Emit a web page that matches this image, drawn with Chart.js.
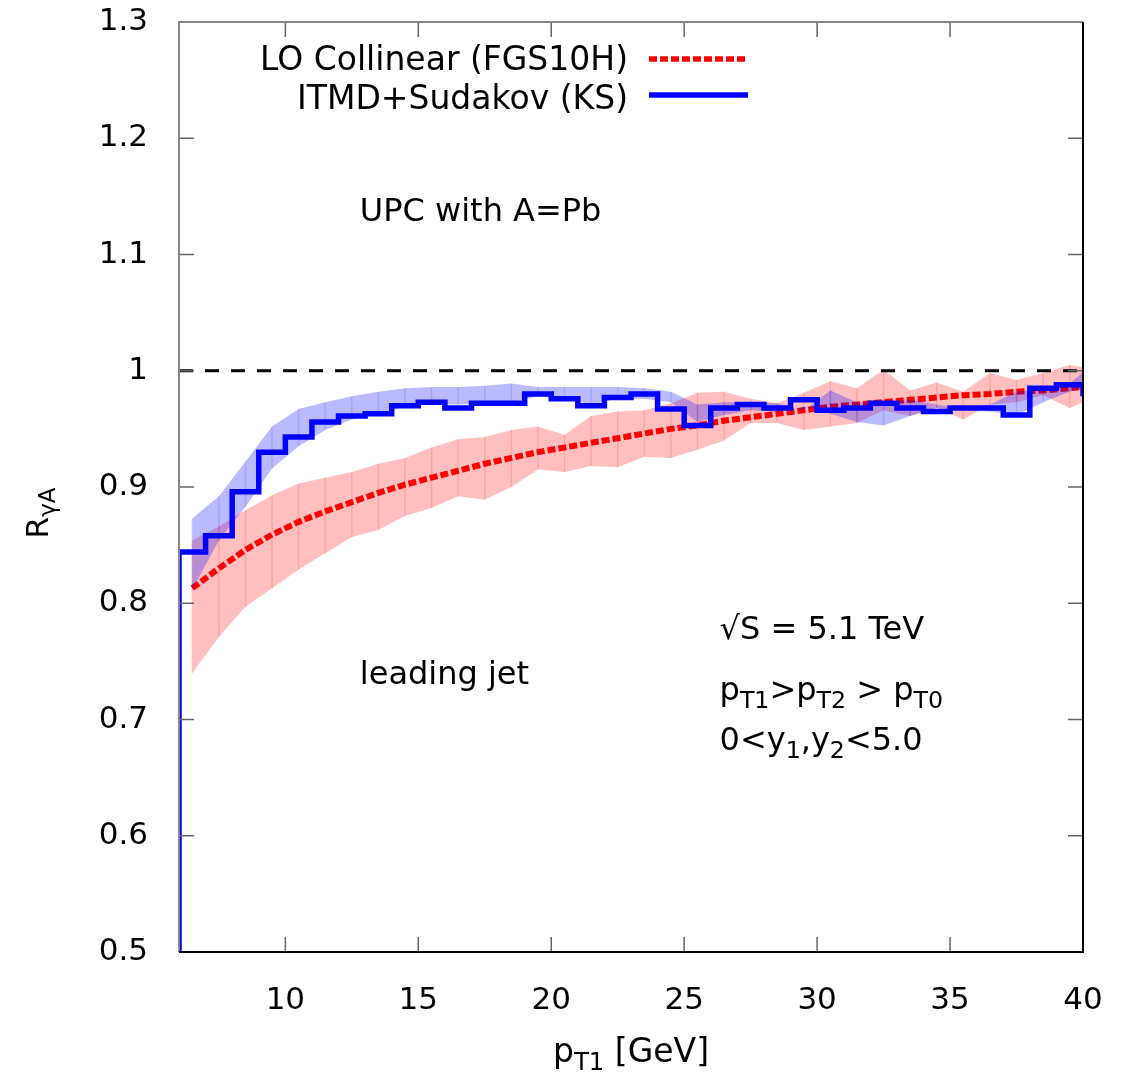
<!DOCTYPE html>
<html>
<head>
<meta charset="utf-8">
<script src="https://cdn.jsdelivr.net/npm/chart.js@4.4.1/dist/chart.umd.min.js"></script>
<style>
  body { margin: 0; background: #fff; }
</style>
</head>
<body>
<canvas id="myChart" width="1138" height="1074"></canvas>
<script>
// histogram bin left edges (GeV) and ITMD+Sudakov (KS) values
const binEdges = [5, 6, 7, 8, 9, 10, 11, 12, 13, 14, 15, 16, 17, 18, 19, 20, 21, 22, 23,
  24, 25, 26, 27, 28, 29, 30, 31, 32, 33, 34, 35, 36, 37, 38, 39, 40];
const ksHist = [0, 0.844, 0.858, 0.896, 0.930, 0.943, 0.956, 0.961, 0.963, 0.970, 0.973,
  0.968, 0.972, 0.972, 0.980, 0.976, 0.970, 0.977, 0.980, 0.967, 0.953, 0.968, 0.971,
  0.968, 0.975, 0.966, 0.968, 0.972, 0.968, 0.965, 0.968, 0.968, 0.962, 0.985, 0.988, 0.978];

// bin centres used by the bands and the collinear curve
const ptMid = [6.5, 7.5, 8.5, 9.5, 10.5, 11.5, 12.5, 13.5, 14.5, 15.5, 16.5, 17.5, 18.5,
  19.5, 20.5, 21.5, 22.5, 23.5, 24.5, 25.5, 26.5, 27.5, 28.5, 29.5, 30.5, 31.5, 32.5,
  33.5, 34.5, 35.5, 36.5, 37.5, 38.5, 39.5, 40];
const fgsCentral = [0.813, 0.830, 0.846, 0.859, 0.870, 0.879, 0.887, 0.895, 0.902, 0.908,
  0.914, 0.920, 0.925, 0.930, 0.934, 0.938, 0.942, 0.946, 0.950, 0.953, 0.957, 0.960,
  0.963, 0.966, 0.969, 0.971, 0.973, 0.975, 0.977, 0.979, 0.980, 0.982, 0.983, 0.985, 0.986];
const fgsUpper = [0.854, 0.866, 0.880, 0.893, 0.903, 0.908, 0.913, 0.920, 0.925, 0.934,
  0.941, 0.943, 0.949, 0.952, 0.945, 0.961, 0.965, 0.966, 0.972, 0.981, 0.982, 0.976,
  0.972, 0.981, 0.991, 0.985, 1.001, 0.983, 0.990, 0.982, 0.998, 0.992, 0.998, 1.005, 1.003];
const fgsLower = [0.740, 0.771, 0.797, 0.813, 0.829, 0.843, 0.857, 0.863, 0.875, 0.882,
  0.892, 0.889, 0.900, 0.915, 0.913, 0.918, 0.917, 0.926, 0.925, 0.932, 0.940, 0.955,
  0.955, 0.949, 0.952, 0.955, 0.966, 0.961, 0.968, 0.958, 0.971, 0.973, 0.979, 0.968, 0.973];
const ksUpper = [0.873, 0.892, 0.922, 0.952, 0.967, 0.973, 0.978, 0.982, 0.985, 0.986,
  0.986, 0.987, 0.989, 0.986, 0.986, 0.986, 0.986, 0.985, 0.982, 0.971, 0.973, 0.973,
  0.972, 0.966, 0.983, 0.973, 0.973, 0.975, 0.971, 0.968, 0.971, 0.982, 0.985, 0.989, 0.999];
const ksLower = [0.812, 0.854, 0.883, 0.916, 0.935, 0.949, 0.958, 0.963, 0.969, 0.971,
  0.971, 0.972, 0.973, 0.978, 0.976, 0.971, 0.976, 0.976, 0.973, 0.956, 0.962, 0.966,
  0.965, 0.969, 0.963, 0.956, 0.953, 0.961, 0.968, 0.966, 0.965, 0.962, 0.973, 0.982, 0.985];

const refLevel = 1;
const xTicks = [10, 15, 20, 25, 30, 35, 40];
const yTicks = [0.5, 0.6, 0.7, 0.8, 0.9, 1.0, 1.1, 1.2, 1.3];

const FONT = '"DejaVu Sans", Verdana, sans-serif';

function pts(xs, ys) {
  return xs.map((x, i) => ({x: x, y: ys[i]}));
}

// text with subscripts: parts = [[text, isSub], ...]
function rich(ctx, parts, x, y, size, align) {
  let w = 0;
  parts.forEach(([t, sub]) => {
    ctx.font = (sub ? size * 0.74 : size) + 'px ' + FONT;
    w += ctx.measureText(t).width;
  });
  let cx = x;
  if (align === 'right') cx = x - w;
  if (align === 'center') cx = x - w / 2;
  ctx.textAlign = 'left';
  ctx.textBaseline = 'alphabetic';
  parts.forEach(([t, sub]) => {
    ctx.font = (sub ? size * 0.74 : size) + 'px ' + FONT;
    ctx.fillText(t, cx, sub ? y + size * 0.24 : y);
    cx += ctx.measureText(t).width;
  });
}

// faint vertical strokes inside the bands, one at each band point
const bandLines = {
  id: 'bandLines',
  afterDatasetDraw(chart, args) {
    const ds = chart.data.datasets[args.index];
    if (!ds.bandLine) return;
    const hi = chart.getDatasetMeta(args.index).data;
    const lo = chart.getDatasetMeta(args.index + 1).data;
    const ctx = chart.ctx, a = chart.chartArea;
    ctx.save();
    ctx.beginPath();
    ctx.rect(a.left, a.top, a.right - a.left, a.bottom - a.top);
    ctx.clip();
    ctx.strokeStyle = ds.bandLine;
    ctx.lineWidth = 1.5;
    hi.forEach((p, i) => {
      ctx.beginPath();
      ctx.moveTo(p.x, p.y);
      ctx.lineTo(lo[i].x, lo[i].y);
      ctx.stroke();
    });
    ctx.restore();
  }
};

const frame = {
  id: 'frame',
  afterDraw(chart) {
    const ctx = chart.ctx, a = chart.chartArea;
    const xs = chart.scales.x, ys = chart.scales.y;
    ctx.save();
    // inward ticks
    ctx.lineWidth = 1.5;
    ctx.strokeStyle = '#666';
    xTicks.forEach(v => {
      const px = xs.getPixelForValue(v);
      ctx.beginPath();
      ctx.moveTo(px, a.bottom); ctx.lineTo(px, a.bottom - 15);
      ctx.moveTo(px, a.top); ctx.lineTo(px, a.top + 15);
      ctx.stroke();
    });
    yTicks.forEach(v => {
      const py = ys.getPixelForValue(v);
      ctx.beginPath();
      ctx.moveTo(a.left, py); ctx.lineTo(a.left + 15, py);
      ctx.moveTo(a.right, py); ctx.lineTo(a.right - 15, py);
      ctx.stroke();
    });
    // box
    ctx.lineWidth = 2;
    ctx.strokeStyle = '#888';
    ctx.beginPath();
    ctx.moveTo(a.left, a.bottom); ctx.lineTo(a.left, a.top); ctx.lineTo(a.right, a.top);
    ctx.stroke();
    ctx.strokeStyle = '#000';
    ctx.beginPath();
    ctx.moveTo(a.right, a.top); ctx.lineTo(a.right, a.bottom); ctx.lineTo(a.left, a.bottom);
    ctx.stroke();

    ctx.fillStyle = '#000';
    const W = a.right - a.left, H = a.bottom - a.top;
    const gx = f => a.left + f * W, gy = f => a.top + f * H;

    // legend
    rich(ctx, [['LO Collinear (FGS10H)', false]], 628, 70, 33, 'right');
    rich(ctx, [['ITMD+Sudakov (KS)', false]], 628, 109, 33, 'right');
    ctx.lineWidth = 5.5;
    ctx.strokeStyle = '#ff0000';
    ctx.setLineDash([8, 3]);
    ctx.beginPath(); ctx.moveTo(649, 59); ctx.lineTo(746, 59); ctx.stroke();
    ctx.setLineDash([]);
    ctx.lineWidth = 5.5;
    ctx.strokeStyle = '#0000ff';
    ctx.beginPath(); ctx.moveTo(649, 95); ctx.lineTo(748, 95); ctx.stroke();

    // annotations
    rich(ctx, [['UPC with A=Pb', false]], gx(0.2), gy(0.214), 32, 'left');
    rich(ctx, [['leading jet', false]], gx(0.2), gy(0.712), 32, 'left');
    rich(ctx, [['\u221AS = 5.1 TeV', false]], gx(0.598), gy(0.663), 32, 'left');
    rich(ctx, [['p', false], ['T1', true], ['>p', false], ['T2', true], [' > p', false], ['T0', true]],
      gx(0.598), gy(0.729), 32, 'left');
    rich(ctx, [['0<y', false], ['1', true], [',y', false], ['2', true], ['<5.0', false]],
      gx(0.598), gy(0.783), 32, 'left');

    // axis titles
    rich(ctx, [['p', false], ['T1', true], [' [GeV]', false]], (a.left + a.right) / 2, 1062, 33, 'center');
    ctx.save();
    ctx.translate(48, 513);
    ctx.rotate(-Math.PI / 2);
    rich(ctx, [['R', false], ['\u03B3A', true]], 0, 0, 31, 'center');
    ctx.restore();
    ctx.restore();
  }
};

const ctx = document.getElementById('myChart');
new Chart(ctx, {
  type: 'line',
  data: {
    datasets: [
      { label: 'fgsHi', data: pts(ptMid, fgsUpper), borderColor: 'rgba(0,0,0,0)', borderWidth: 0,
        backgroundColor: 'rgba(255,0,0,0.25)', fill: '+1', order: 7, bandLine: 'rgba(230,0,0,0.14)' },
      { label: 'fgsLo', data: pts(ptMid, fgsLower), borderColor: 'rgba(0,0,0,0)', borderWidth: 0,
        fill: false, order: 6 },
      { label: 'LO Collinear (FGS10H)', data: pts(ptMid, fgsCentral), borderColor: '#ff0000',
        borderWidth: 6, borderDash: [8, 3], fill: false, order: 5 },
      { label: 'ksHi', data: pts(ptMid, ksUpper), borderColor: 'rgba(0,0,0,0)', borderWidth: 0,
        backgroundColor: 'rgba(0,0,255,0.27)', fill: '+1', order: 4, bandLine: 'rgba(0,0,230,0.12)' },
      { label: 'ksLo', data: pts(ptMid, ksLower), borderColor: 'rgba(0,0,0,0)', borderWidth: 0,
        fill: false, order: 3 },
      { label: 'ITMD+Sudakov (KS)', data: pts(binEdges, ksHist), borderColor: '#0000ff',
        borderWidth: 5.5, stepped: 'before', fill: false, order: 2 },
      { label: 'ref', data: [{x: 6, y: refLevel}, {x: 40, y: refLevel}], borderColor: '#000',
        borderWidth: 3, borderDash: [14, 12], fill: false, order: 1 }
    ]
  },
  options: {
    responsive: false,
    animation: false,
    devicePixelRatio: 1,
    layout: { padding: { left: 0, top: 22, right: 55, bottom: 0 } },
    elements: { point: { radius: 0 }, line: { tension: 0 } },
    plugins: { legend: { display: false }, tooltip: { enabled: false } },
    scales: {
      x: {
        type: 'linear', min: 6, max: 40,
        grid: { display: false }, border: { display: false },
        afterBuildTicks: s => { s.ticks = xTicks.map(v => ({value: v})); },
        afterFit: s => { s.height = 122; s.paddingLeft = 0; s.paddingRight = 0; },
        ticks: { font: { family: FONT, size: 31 }, color: '#000', padding: 22,
                 maxRotation: 0, autoSkip: false }
      },
      y: {
        type: 'linear', min: 0.5, max: 1.3,
        grid: { display: false }, border: { display: false },
        afterBuildTicks: s => { s.ticks = yTicks.map(v => ({value: v})); },
        afterFit: s => { s.width = 179; s.paddingTop = 0; s.paddingBottom = 0; },
        ticks: { font: { family: FONT, size: 31 }, color: '#000', padding: 23,
                 callback: v => String(+v.toFixed(1)) }
      }
    }
  },
  plugins: [bandLines, frame]
});
</script>
</body>
</html>
